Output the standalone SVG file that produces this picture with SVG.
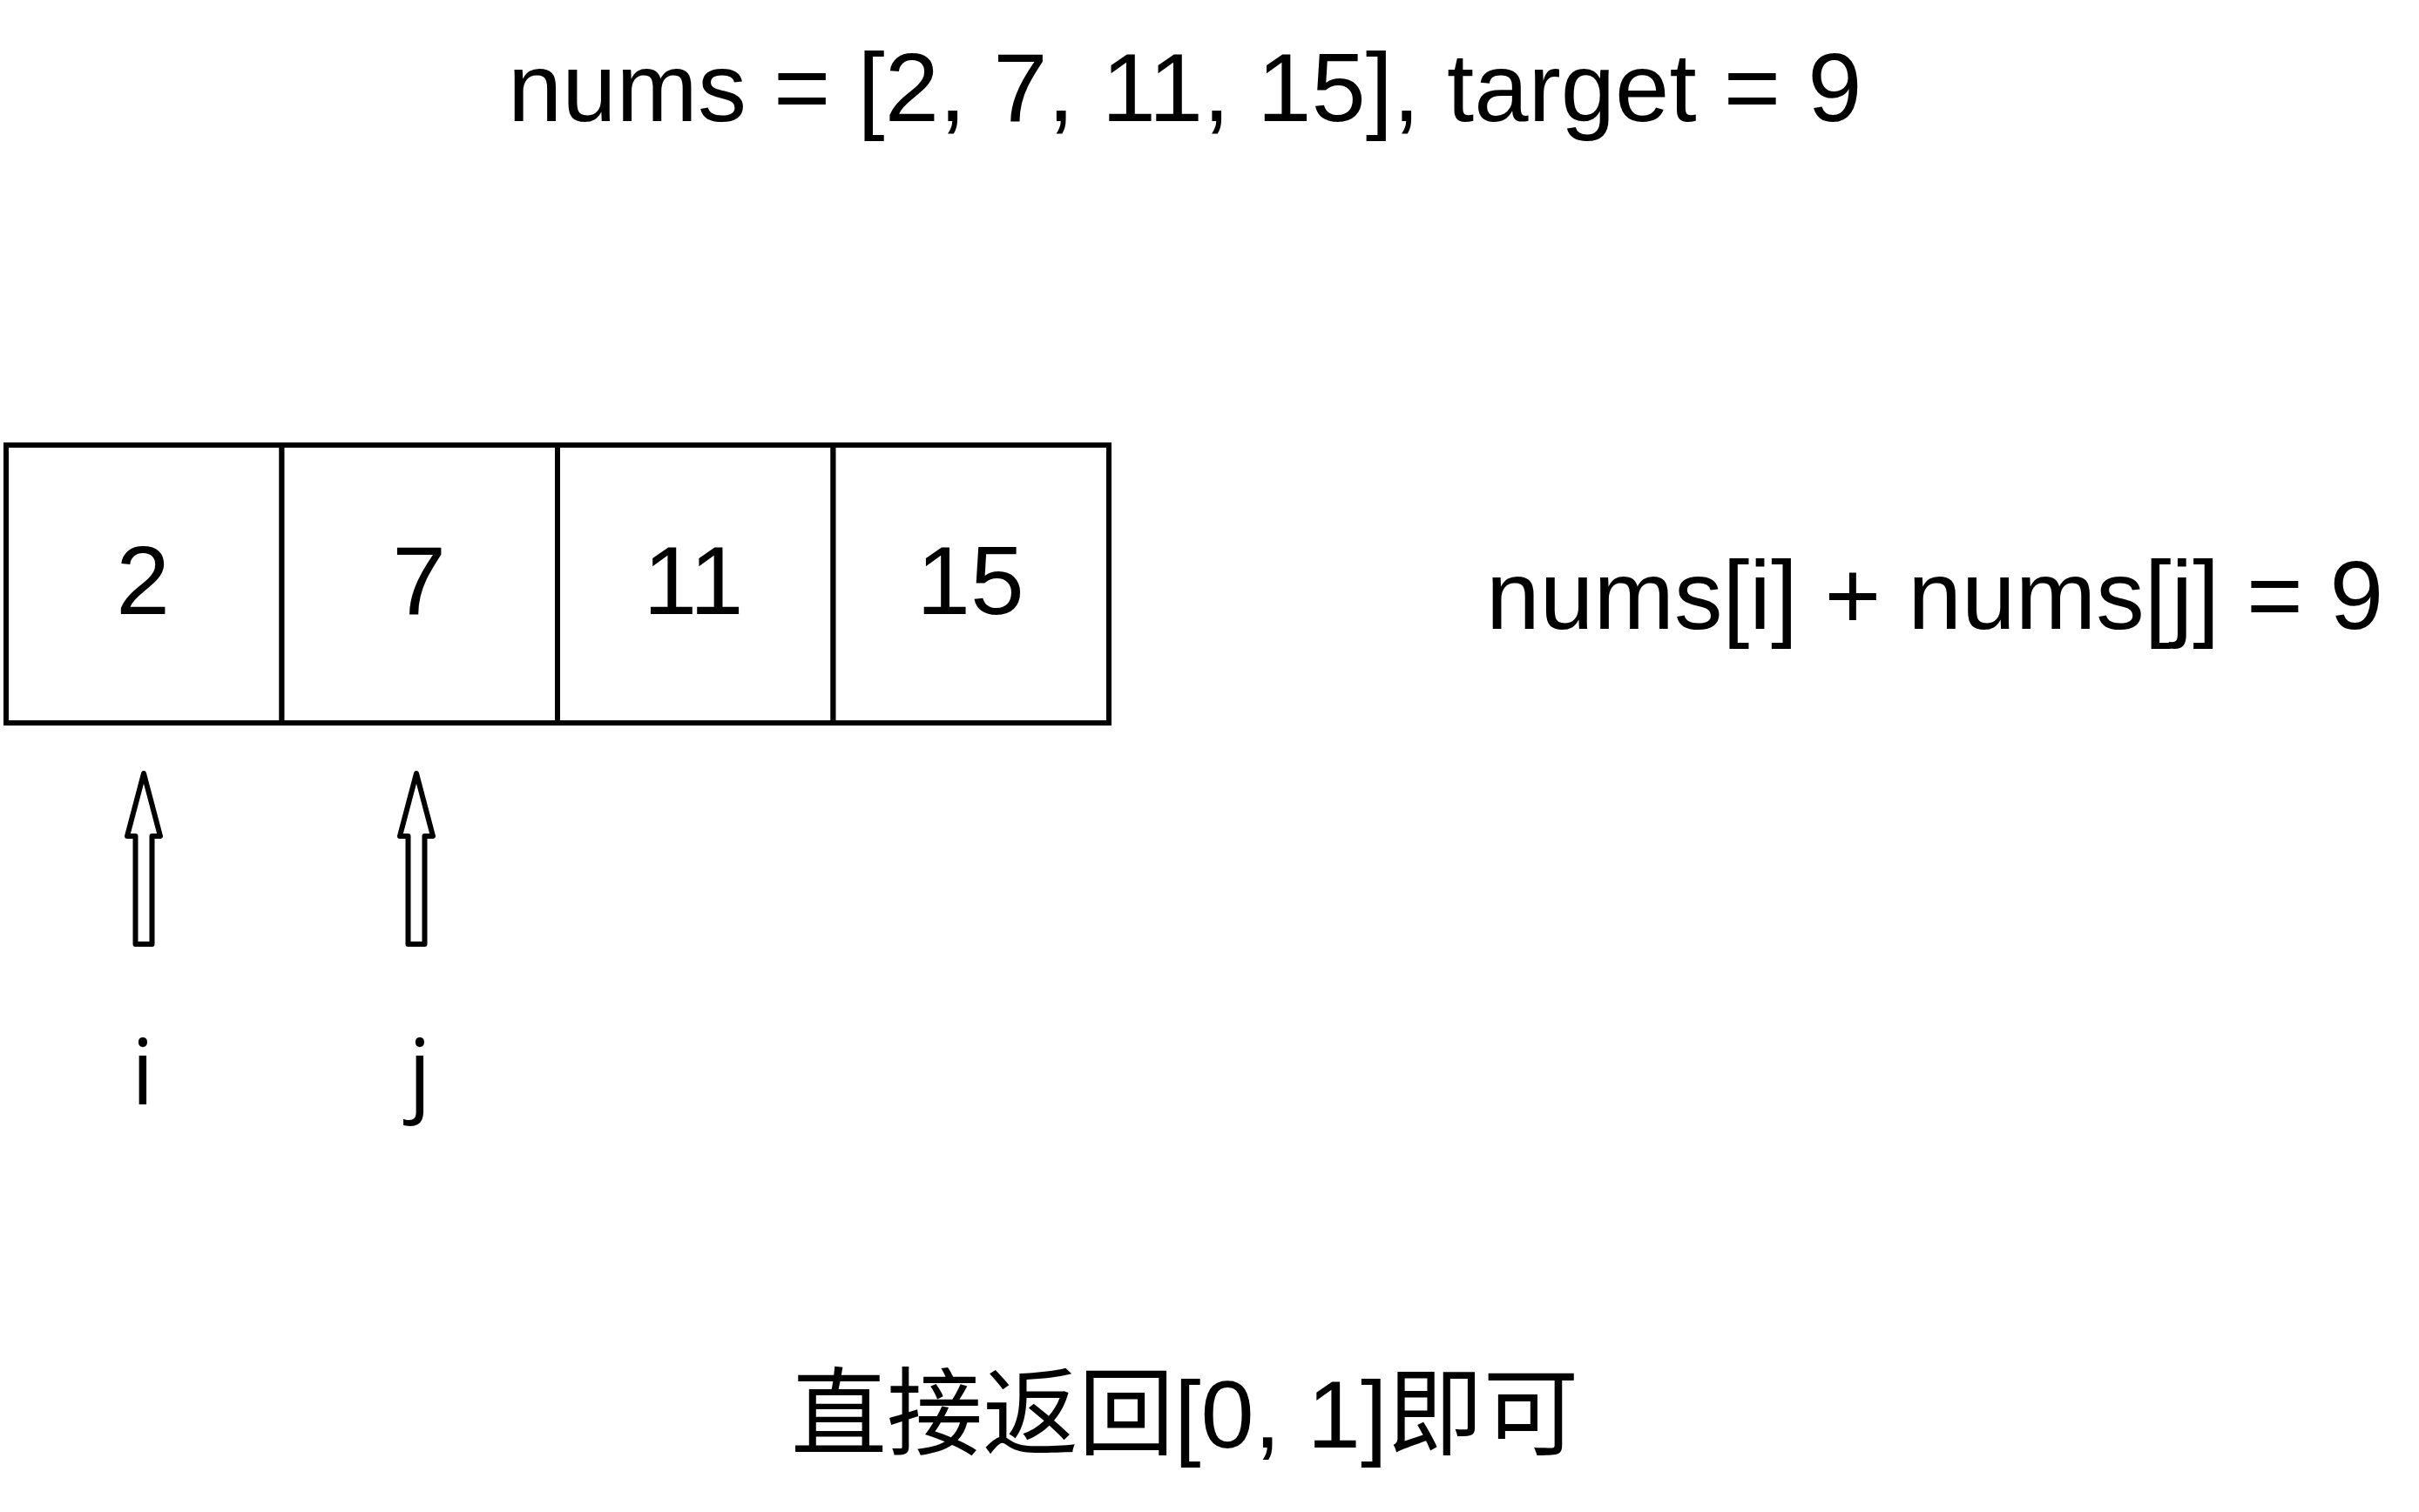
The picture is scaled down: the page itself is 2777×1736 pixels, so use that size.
<svg xmlns="http://www.w3.org/2000/svg" width="2777" height="1736" viewBox="0 0 2777 1736">
  <style>
    .cell { fill: #ffffff; stroke: #000000; stroke-width: 6; }
    .num { font-family: "Liberation Sans", Arial, sans-serif; font-size: 111px; fill: #000000; text-anchor: middle; }
    .label { font-family: "Liberation Sans", Arial, sans-serif; font-size: 111px; fill: #000000; }
    .ptr { font-family: "Open Sans", "Noto Sans", sans-serif; font-size: 104px; fill: #000000; text-anchor: middle; }
    .cjk { font-family: "Liberation Sans", "Noto Sans CJK SC", sans-serif; font-size: 110px; fill: #000000; }
    .arrow { fill: #ffffff; stroke: #000000; stroke-width: 6; stroke-linejoin: round; }
  </style>
  <rect width="2777" height="1736" fill="#ffffff"/>

  <g id="title">
    <text class="label" x="583" y="139" style="font-size:112px">nums = [2, 7, 11, 15], target = 9</text>
  </g>

  <g id="cell-0">
    <rect class="cell" x="7" y="511" width="316.5" height="319"/>
    <text class="num" x="164" y="705">2</text>
  </g>
  <g id="cell-1">
    <rect class="cell" x="323.5" y="511" width="316.5" height="319"/>
    <text class="num" x="481" y="705">7</text>
  </g>
  <g id="cell-2">
    <rect class="cell" x="640" y="511" width="316.5" height="319"/>
    <text class="num" x="796" y="705">11</text>
  </g>
  <g id="cell-3">
    <rect class="cell" x="956.5" y="511" width="316.5" height="319"/>
    <text class="num" x="1114" y="705">15</text>
  </g>

  <g id="condition">
    <text class="label" x="1706" y="722">nums[i] + nums[j] = 9</text>
  </g>

  <g id="connectors">
    <path class="arrow" d="M165,888 L184,960 L174.5,960 L174.5,1084 L155.5,1084 L155.5,960 L146,960 Z"/>
    <path class="arrow" d="M478,888 L497,960 L487.5,960 L487.5,1084 L468.5,1084 L468.5,960 L459,960 Z"/>
  </g>

  <g id="pointer-i">
    <text class="ptr" x="164" y="1268">i</text>
  </g>
  <g id="pointer-j">
    <text class="ptr" x="482" y="1268">j</text>
  </g>

  <g id="result">
    <text class="cjk" x="908" y="1662">直接返回[0, 1]即可</text>
  </g>
</svg>
